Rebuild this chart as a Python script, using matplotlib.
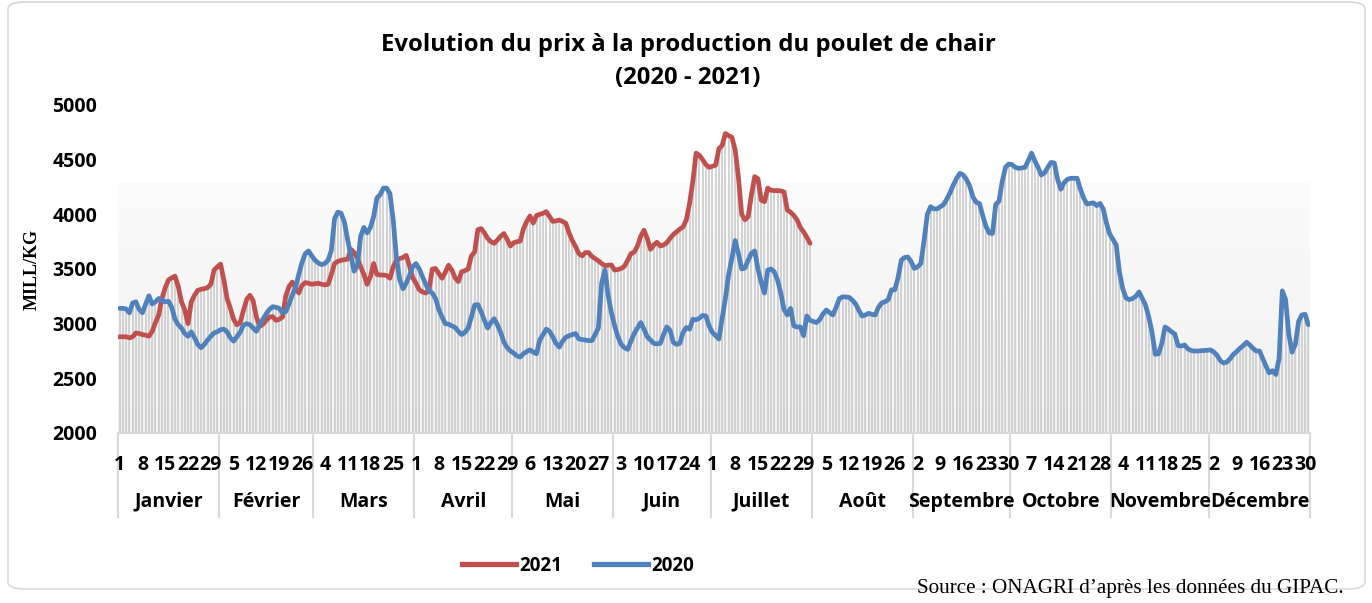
import numpy as np
import matplotlib
matplotlib.use("Agg")
import matplotlib.pyplot as plt
from matplotlib.lines import Line2D
from matplotlib.patches import FancyBboxPatch
from matplotlib.colors import LinearSegmentedColormap
import matplotlib.transforms as mtransforms

# ---------------- data ----------------
months = ["Janvier", "Février", "Mars", "Avril", "Mai", "Juin", "Juillet",
          "Août", "Septembre", "Octobre", "Novembre", "Décembre"]
days_in_month = [31, 29, 31, 30, 31, 30, 31, 31, 30, 31, 30, 31]
tick_labels = ["1", "8", "15", "22", "29", "5", "12", "19", "26", "4", "11", "18", "25",
               "1", "8", "15", "22", "29", "6", "13", "20", "27", "3", "10", "17", "24",
               "1", "8", "15", "22", "29", "5", "12", "19", "26", "2", "9", "16", "23", "30",
               "7", "14", "21", "28", "4", "11", "18", "25", "2", "9", "16", "23", "30"]

price_2020 = [
    3140, 3140, 3135, 3100, 3190, 3200, 3130, 3100, 3180, 3255,
    3180, 3200, 3230, 3210, 3200, 3205, 3150, 3040, 2990, 2960,
    2910, 2885, 2925, 2870, 2810, 2780, 2810, 2850, 2885, 2915,
    2925, 2945, 2950, 2925, 2870, 2840, 2880, 2920, 2985, 3000,
    2990, 2960, 2930, 2990, 3040, 3090, 3130, 3155, 3150, 3140,
    3100, 3110, 3180, 3260, 3330, 3450, 3560, 3640, 3665, 3620,
    3580, 3555, 3540, 3550, 3580, 3670, 3960, 4020, 4010, 3930,
    3770, 3620, 3480, 3530, 3800, 3880, 3830, 3880, 3980, 4150,
    4180, 4240, 4240, 4190, 3950, 3600, 3400, 3320, 3370, 3440,
    3520, 3550, 3500, 3430, 3360, 3300, 3280, 3230, 3130, 3060,
    3000, 2995, 2980, 2965, 2930, 2900, 2920, 2960, 3060, 3170,
    3175, 3110, 3030, 2960, 3010, 3045, 2990, 2920, 2830, 2780,
    2750, 2730, 2705, 2695, 2725, 2745, 2760, 2740, 2725, 2850,
    2900, 2950, 2930, 2880, 2820, 2785, 2840, 2875, 2890, 2900,
    2910, 2860, 2855, 2850, 2845, 2845, 2900, 2960, 3370, 3490,
    3260, 3100, 2980, 2880, 2810, 2780, 2765, 2840, 2910, 2960,
    3010, 2950, 2880, 2850, 2820, 2815, 2820, 2900, 2970, 2940,
    2830, 2810, 2820, 2920, 2965, 2950, 3040, 3035, 3050, 3075,
    3070, 2980, 2920, 2890, 2860, 3050, 3230, 3450, 3600, 3760,
    3640, 3500, 3510, 3580, 3645, 3665, 3500, 3380, 3280, 3490,
    3500, 3475, 3400, 3280, 3130, 3080, 3140, 2980, 2970, 2970,
    2890, 3070, 3030, 3020, 3010, 3040, 3090, 3125, 3100, 3080,
    3150, 3230, 3245, 3245, 3240, 3215, 3180, 3120, 3070, 3080,
    3095, 3085, 3080, 3150, 3190, 3200, 3220, 3310, 3310, 3420,
    3580, 3605, 3610, 3570, 3505, 3520, 3550, 3760, 4000, 4070,
    4050, 4050, 4070, 4090, 4140, 4200, 4270, 4330, 4375, 4360,
    4320, 4260, 4160, 4110, 4100, 3990, 3890, 3830, 3825, 4090,
    4120, 4300, 4430, 4460, 4455, 4430, 4420, 4425, 4430, 4490,
    4560, 4490, 4430, 4360, 4380, 4430, 4475, 4470, 4320, 4230,
    4290, 4320, 4330, 4330, 4330, 4230, 4150, 4095, 4100, 4105,
    4080, 4100, 4050, 3920, 3820, 3770, 3720, 3470, 3320, 3235,
    3220, 3230, 3250, 3290, 3230, 3170, 3060, 2920, 2720, 2725,
    2820, 2970, 2950, 2925, 2905, 2800, 2795, 2805, 2770, 2755,
    2750, 2750, 2752, 2755, 2757, 2760, 2740, 2710, 2660, 2640,
    2650, 2680, 2720, 2745, 2775, 2800, 2830, 2805, 2775, 2750,
    2750, 2680, 2610, 2550, 2570, 2535, 2680, 3300, 3220, 2900,
    2740, 2810, 3020, 3080, 3085, 2990]

price_2021 = [
    2880, 2880, 2880, 2870, 2880, 2915, 2910, 2900, 2895, 2885,
    2930, 3010, 3080, 3230, 3330, 3400, 3420, 3435, 3340, 3200,
    3125, 3000, 3200, 3260, 3305, 3315, 3320, 3330, 3360, 3490,
    3520, 3545, 3400, 3230, 3140, 3040, 2990, 3010, 3120, 3220,
    3260, 3210, 3060, 2975, 2995, 3030, 3060, 3065, 3030, 3040,
    3060, 3250, 3340, 3380, 3330, 3280, 3350, 3375, 3370, 3360,
    3365, 3370, 3360, 3355, 3360, 3450, 3550, 3570, 3580, 3585,
    3590, 3680, 3650, 3600, 3520, 3450, 3360, 3430, 3550, 3450,
    3445, 3445, 3440, 3415, 3520, 3580, 3595, 3605, 3625, 3530,
    3420, 3370, 3310, 3290, 3280, 3310, 3500, 3505, 3460, 3415,
    3470, 3535, 3490, 3420, 3385, 3475, 3485, 3500, 3620, 3655,
    3860, 3870, 3830, 3780, 3750, 3735, 3765, 3800, 3825, 3770,
    3710, 3740, 3750, 3755, 3870, 3935, 3985, 3920, 3990, 4000,
    4010, 4025, 3980, 3935, 3940, 3948, 3935, 3918, 3830, 3760,
    3705, 3640, 3620, 3650, 3650, 3615, 3595, 3575, 3550, 3530,
    3535, 3537, 3490, 3495, 3505, 3525, 3580, 3640, 3655, 3710,
    3800, 3855, 3780, 3680, 3720, 3745, 3710, 3720, 3740, 3780,
    3815, 3840, 3865, 3885, 3950, 4100, 4300, 4560, 4540, 4500,
    4455, 4430, 4440, 4450, 4600, 4630, 4740, 4720, 4705, 4590,
    4340, 4000, 3950, 3980, 4180, 4345, 4325, 4130, 4115, 4240,
    4220, 4217, 4217, 4215, 4205, 4040, 4020, 3990, 3950, 3880,
    3840, 3790, 3735]

# ---------------- figure ----------------
W, H = 1372, 603
fig = plt.figure(figsize=(W / 100, H / 100), dpi=100)
fig.patch.set_facecolor("white")

FONT = "Open Sans"

# rounded chart border
border = FancyBboxPatch((8 / W, 14 / H), (1365 - 8) / W, (601 - 14) / H,
                        boxstyle="round,pad=0,rounding_size=0.012",
                        transform=fig.transFigure, facecolor="none",
                        edgecolor="#d9d9d9", linewidth=1.2, zorder=0)
fig.patches.append(border)

ax = fig.add_axes([118 / W, 1 - 433 / H, (1310 - 118) / W, (433 - 105) / H])
ax.set_facecolor("white")

n2020 = len(price_2020)
x2020 = np.arange(n2020)
x2021 = np.arange(len(price_2021))
p20 = np.array(price_2020, dtype=float)
p21 = np.array(price_2021, dtype=float)

# background gradient in plot area
cmap = LinearSegmentedColormap.from_list("bg", ["#f0f0f0", "#fbfbfb"])
grad = np.linspace(0, 1, 256).reshape(-1, 1)
ax.imshow(grad, extent=[-0.5, n2020 - 0.5, 2000, 4280], origin="lower",
          aspect="auto", cmap=cmap, zorder=0)

# drop lines from the highest series value
top = p20.copy()
top[:len(p21)] = np.maximum(p20[:len(p21)], p21)
ax.vlines(x2020, 2000, top, colors="#cfcfcf", linewidth=1.3, zorder=1)

ax.plot(x2021, p21, color="#C0504D", linewidth=3.4, solid_capstyle="round",
        solid_joinstyle="round", zorder=3)
ax.plot(x2020, p20, color="#4F81BD", linewidth=3.4, solid_capstyle="round",
        solid_joinstyle="round", zorder=4)

ax.set_xlim(-0.5, n2020 - 0.5)
ax.set_ylim(2000, 5000)
ax.set_yticks(np.arange(2000, 5001, 500))
for s in ["top", "right", "left"]:
    ax.spines[s].set_visible(False)
ax.spines["bottom"].set_color("#d9d9d9")
ax.spines["bottom"].set_linewidth(1.5)

tick_font = dict(family=FONT, weight="bold", size=14)
ax.tick_params(axis="y", length=0, pad=15)
for lab in ax.get_yticklabels():
    lab.set_fontfamily(FONT)
    lab.set_fontweight("bold")
    lab.set_fontsize(14)

# x tick labels (weekly)
tick_pos = np.arange(0, n2020, 7)[:len(tick_labels)]
ax.set_xticks(tick_pos)
ax.set_xticklabels(tick_labels, **tick_font)
ax.tick_params(axis="x", length=0, pad=15.5)

# month labels and separators
trans = mtransforms.blended_transform_factory(ax.transData, ax.transAxes)
bounds = np.concatenate([[0], np.cumsum(days_in_month)])
for i, m in enumerate(months):
    c = (bounds[i] + bounds[i + 1]) / 2 - 0.5
    ax.text(c, -0.210, m, transform=trans, ha="center", va="center", **tick_font)
for b in bounds:
    ax.add_line(Line2D([b - 0.5, b - 0.5], [0, -0.256], transform=trans,
                       color="#d9d9d9", linewidth=1.5, clip_on=False, zorder=0))

# y label
fig.text(32 / W, 1 - 270 / H, "MILL/KG", rotation=90, ha="center", va="center",
         family="Liberation Serif", weight="bold", fontsize=13)

# title
fig.text(688 / W, 1 - 45 / H, "Evolution du prix à la production du poulet de chair",
         ha="center", va="center", family=FONT, weight="bold", fontsize=17.2)
fig.text(688 / W, 1 - 78 / H, "(2020 - 2021)",
         ha="center", va="center", family=FONT, weight="bold", fontsize=17.2)

# legend
handles = [Line2D([], [], color="#C0504D", linewidth=3.8),
           Line2D([], [], color="#4F81BD", linewidth=3.8)]
leg = fig.legend(handles, ["2021", "2020"], loc="center", ncol=2,
                 bbox_to_anchor=(578 / W, 1 - 566 / H), frameon=False,
                 handlelength=2.9, handletextpad=0.15, columnspacing=1.7,
                 prop=dict(family=FONT, weight="bold", size=13.5))

# source
fig.text(1344 / W, 1 - 589 / H, "Source : ONAGRI d’après les données du GIPAC.",
         ha="right", va="center", family="Liberation Serif", fontsize=15.2)

fig.savefig("out.png", dpi=100, facecolor="white")
